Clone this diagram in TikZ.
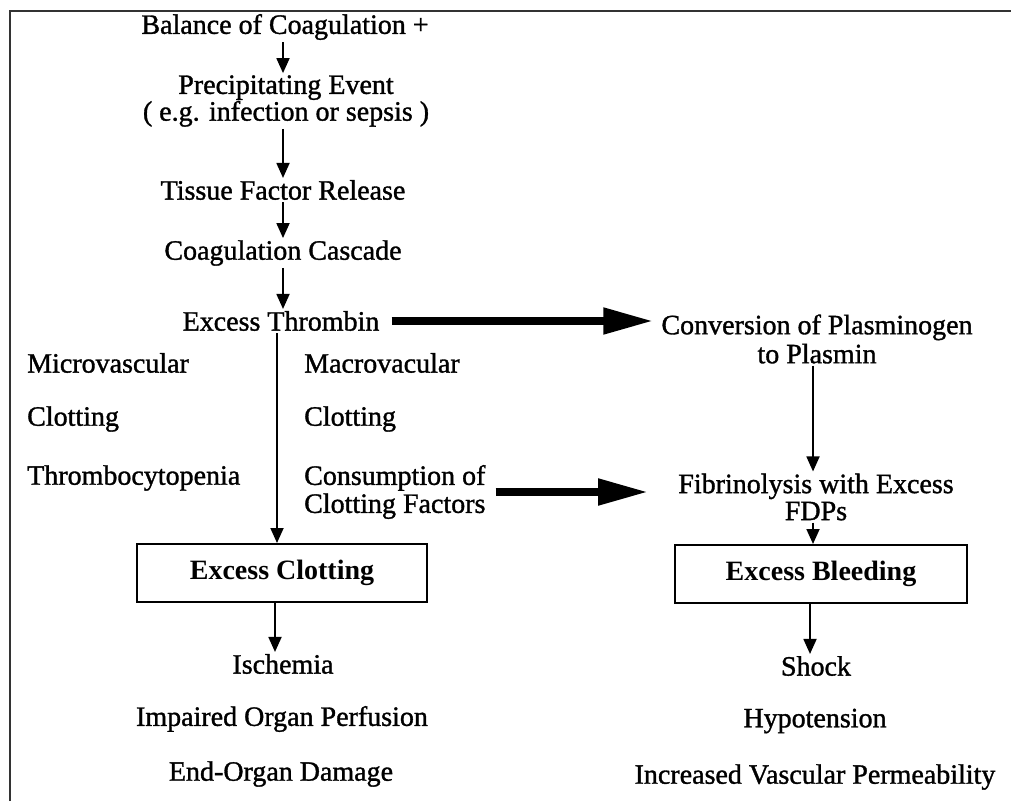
\documentclass[tikz,border=0pt]{standalone}
\usepackage{fontspec}
\setmainfont{Liberation Serif}
\newfontfamily\heavy[FakeBold=1.2]{Liberation Serif}
\usetikzlibrary{arrows.meta,calc}
\begin{document}
\begin{tikzpicture}[x=1pt,y=-1pt,
  txt/.style={inner sep=2pt, font=\heavy\fontsize{28}{23}\selectfont, align=center},
  ltxt/.style={inner sep=0pt, font=\heavy\fontsize{28}{28}\selectfont, align=left, anchor=west},
  boxnode/.style={draw, line width=2pt, minimum width=290pt, minimum height=58pt, font=\fontsize{28}{28}\selectfont\bfseries},
  thin/.style={line width=1.8pt, -{Triangle[length=15pt,width=13pt]}},
  big/.style={line width=8pt, -{Triangle[length=50pt,width=25pt]}}
]
\useasboundingbox (0,0) rectangle (1011,801);
\fill[white] (0,0) rectangle (1011,801);
\draw[line width=2.5pt, black!80] (10,801) -- (10,11) -- (1011,11);
\coordinate (axis) at (283,0);

\node[txt] (bal) at (285,27) {Balance of Coagulation +};
\node[txt] (prec) at (286,101) {Precipitating Event\\( e.g. infection or sepsis )};
\node[txt] (tis) at (283,190) {Tissue Factor Release};
\node[txt] (coag) at (283,253) {Coagulation Cascade};
\node[txt] (thr) at (281,321) {Excess Thrombin};
\node[txt, font=\heavy\fontsize{28}{29}\selectfont] (conv) at (817,339) {Conversion of Plasminogen\\to Plasmin};
\node[txt, font=\heavy\fontsize{28}{27}\selectfont] (fib) at (816,497) {Fibrinolysis with Excess\\FDPs};

\node[ltxt] (micro) at (27,363) {Microvascular};
\node[ltxt] (clotl) at (27,419) {Clotting};
\node[ltxt] (thrombo) at (27,478) {Thrombocytopenia};
\node[ltxt] (macro) at (304,363) {Macrovacular};
\node[ltxt] (clotr) at (304,419) {Clotting};
\node[ltxt] (cons) at (304,492) {Consumption of\\Clotting Factors};

\node[boxnode] (clot) at (282,573) {Excess Clotting};
\node[boxnode, minimum width=292pt, minimum height=58pt] (bleed) at (821,574) {Excess Bleeding};

\node[txt] (isch) at (283,664) {Ischemia};
\node[txt] (imp) at (282,719) {Impaired Organ Perfusion};
\node[txt] (endo) at (281,774) {End-Organ Damage};
\node[txt] (shock) at (816,666) {Shock};
\node[txt] (hypo) at (815,721) {Hypotension};
\node[txt] (incr) at (815,777) {Increased Vascular Permeability};

\draw[thin] (bal.south -| axis) -- (prec.north -| axis);
\draw[thin] (prec.south -| axis) -- (tis.north -| axis);
\draw[thin] (tis.south -| axis) -- (coag.north -| axis);
\draw[thin] (coag.south -| axis) -- (thr.north -| axis);
\draw[thin] ([xshift=-4pt]thr.south) -- ([xshift=-4pt]thr.south |- clot.north);
\draw[thin] ([xshift=-7pt]clot.south) -- ([xshift=-7pt]clot.south |- isch.north);
\draw[thin] ([xshift=-4pt]conv.south) -- ([xshift=-4pt]conv.south |- fib.north);
\draw[thin] ([xshift=-3pt]fib.south) -- ([xshift=-3pt]fib.south |- bleed.north);
\draw[thin] ([xshift=-6pt]shock.north |- bleed.south) -- ([xshift=-6pt]shock.north);
\draw[big] ([xshift=10pt]thr.east) -- ([xshift=-6pt]conv.west |- thr.east);
\draw[big] ([xshift=10pt]cons.east) -- ([xshift=-28pt]fib.west |- cons.east);
\end{tikzpicture}
\end{document}
